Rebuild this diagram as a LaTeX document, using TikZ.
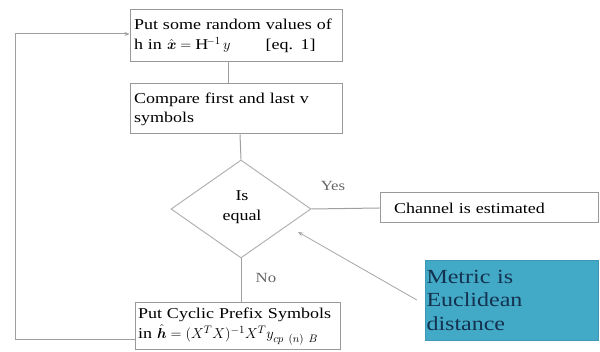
\documentclass[tikz,border=0pt]{standalone}
\usepackage{amsmath}
\usepackage{fontspec}
\setmainfont{Liberation Serif}[FakeStretch=1.2]
\usetikzlibrary{shapes.geometric,calc,arrows.meta}
\begin{document}
\begin{tikzpicture}[x=1pt,y=1pt,
  line/.style={draw=gray!75, line width=1pt},
  stepbox/.style={draw=gray!80, line width=1pt, rectangle, inner sep=0pt, align=left,
    font=\fontsize{15}{19}\selectfont},
  lbl/.style={font=\fontsize{14}{16}\selectfont, text=gray!80!black},
  arr/.style={-{Stealth[length=5pt,width=4pt]}}
]
\useasboundingbox (0,0) rectangle (600,352);
\node[stepbox, minimum width=212, minimum height=52, text width=204] (b1) at (236,316)
  {Put some random values of\\[1pt] h in $\hat{\boldsymbol{x}} = \mathrm{H}^{-1}\,y$ \qquad [eq. 1]};
\node[stepbox, minimum width=212, minimum height=50, text width=204] (b2) at (236,243)
  {Compare first and last v\\ symbols};
\node[diamond, draw=gray!60, line width=1pt, minimum width=140, minimum height=98, inner sep=0pt] (d) at (241,143) {};
\node[align=center, font=\fontsize{15}{20}\selectfont] (dt) at (242,145) {Is\\ equal};
\node[stepbox, minimum width=218, minimum height=30, text width=190] (ch) at (489,144)
  {Channel is estimated};
\node[stepbox, minimum width=205, minimum height=47, text width=199] (b3) at (237.5,25.5)
  {Put Cyclic Prefix Symbols\\[1pt] in $\hat{\boldsymbol{h}} = (X^TX)^{-1}X^T y_{cp\ (n)\ B}$};
\node[rectangle, fill={rgb,255:red,66;green,170;blue,198}, draw={rgb,255:red,60;green,150;blue,180},
  minimum width=173, minimum height=80, inner sep=0pt, text width=170, align=left,
  font=\fontsize{20}{23.5}\selectfont, text={rgb,255:red,20;green,50;blue,80}] (m) at (511.5,52)
  {Metric is\\ Euclidean\\ distance};
\node[lbl] (yes) at (333,166) {Yes};
\node[lbl] (no) at (266,74) {No};
\coordinate (lb) at (15,12);
\coordinate (lt) at (15,318);
\draw[line] ($(b1.south)+(-8,0)$) -- ($(b2.north)+(-8,0)$);
\draw[line] ($(b2.south)+(4,0)$) -- (d.north);
\draw[line] (d.east) -- (ch.west);
\draw[line] (d.south) -- (b3.north -| d.south);
\draw[line] (b3.west |- lb) -- (lb) -- (lt);
\draw[line, arr] (lt) -- (lt -| b1.west);
\draw[draw=gray!70, line width=0.8pt, arr] ($(m.west)+(-8,0)$) -- ($(d.center)+(57,-23)$);
\end{tikzpicture}
\end{document}
